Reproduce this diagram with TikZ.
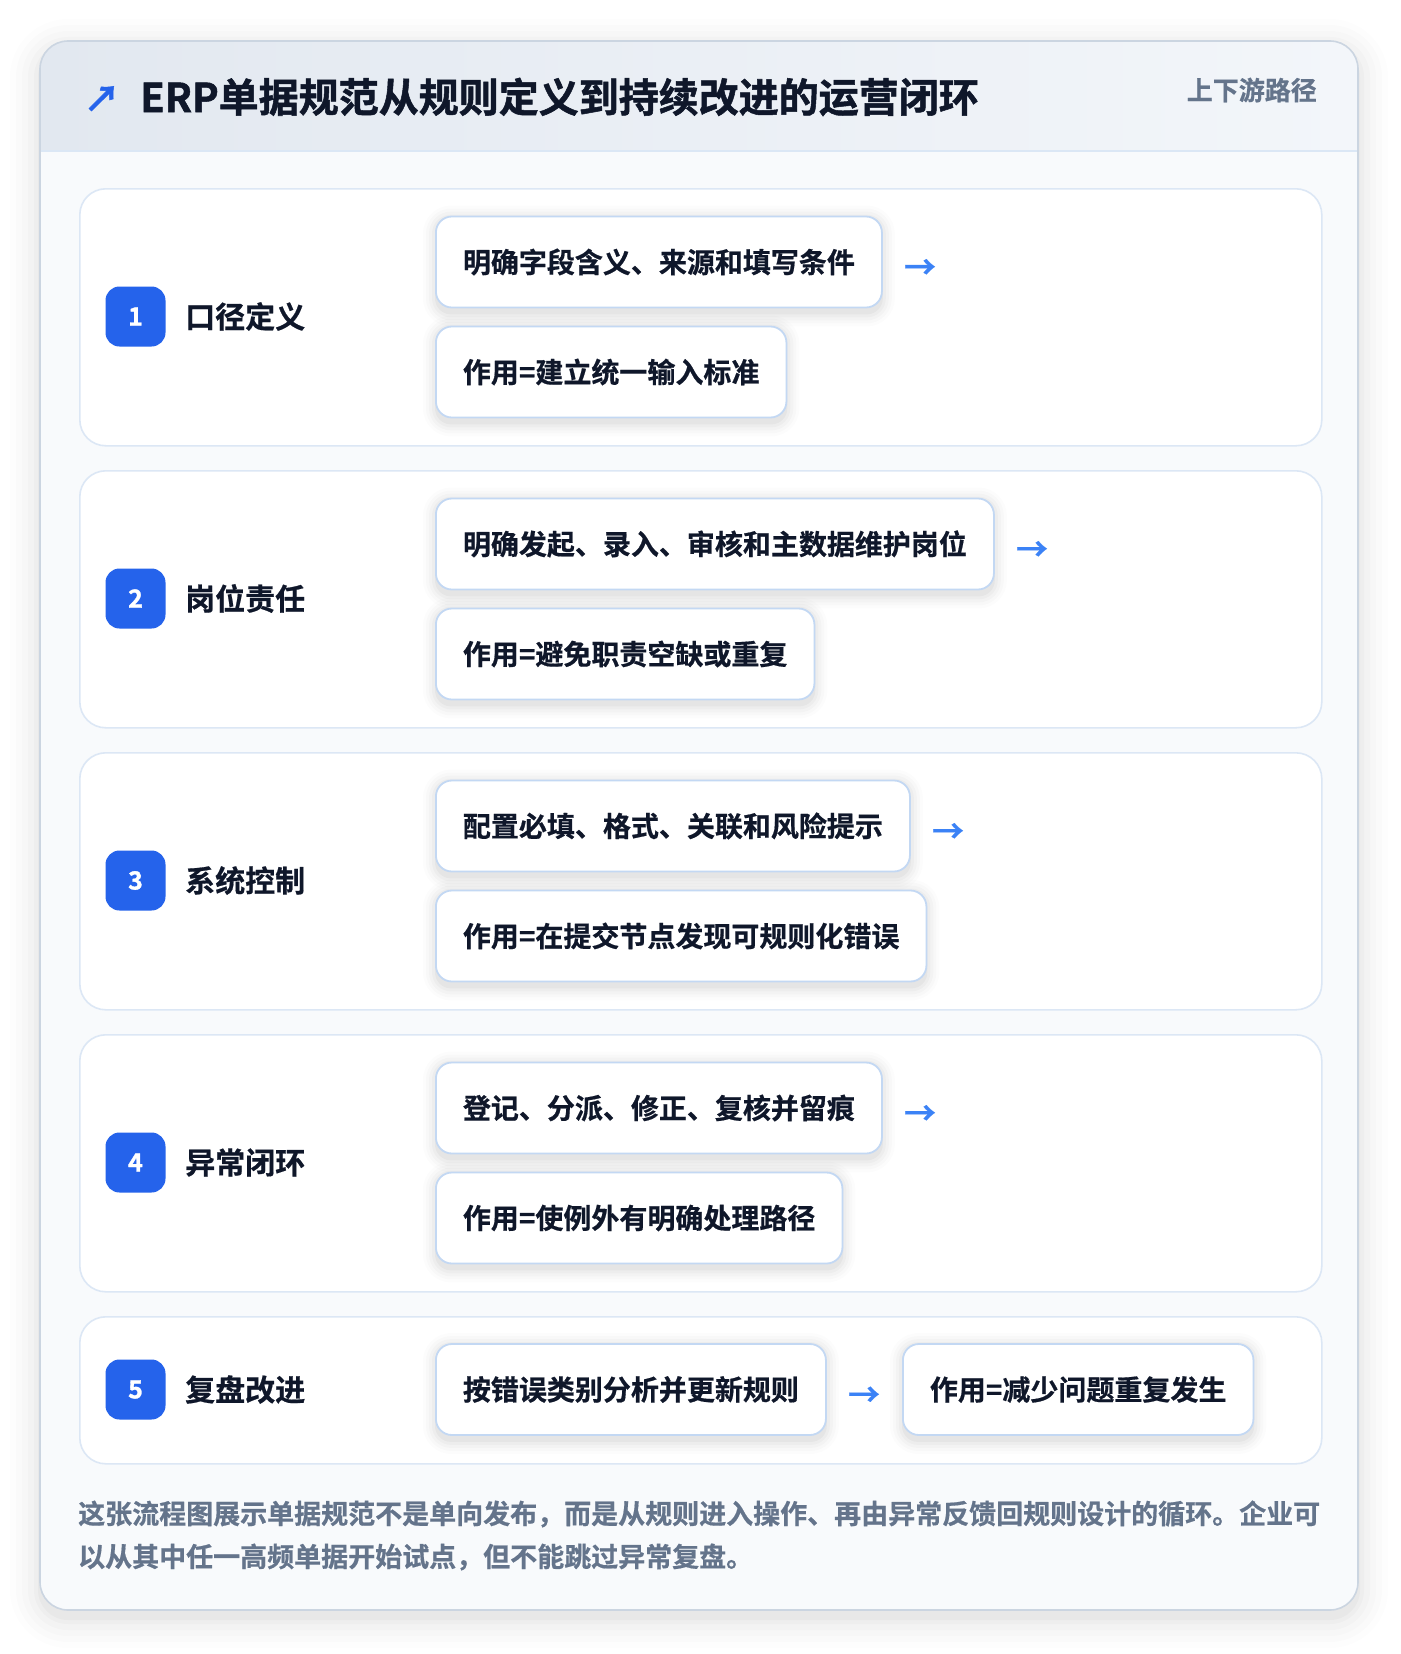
\documentclass[tikz,border=0pt]{standalone}
\usepackage{fontspec}
\setmainfont{Noto Sans CJK SC}[BoldFont={Noto Sans CJK SC Bold}, BoldFeatures={FakeBold=0.6}]
\newfontfamily\titlefont{Noto Sans CJK SC Bold}[FakeBold=1.3]
\definecolor{ink}{HTML}{0F172A}
\definecolor{brandblue}{HTML}{2563EB}
\definecolor{arrowblue}{HTML}{3B82F6}
\definecolor{mutedgray}{HTML}{64748B}
\definecolor{boxborder}{HTML}{C3D8F3}
\definecolor{rowborder}{HTML}{DCE7F5}
\definecolor{cardbody}{HTML}{F8FAFC}
\definecolor{cardborder}{HTML}{CBD5E1}
\definecolor{hdrL}{HTML}{E2E8F0}
\definecolor{hdrR}{HTML}{F3F6FA}
\definecolor{hdrline}{HTML}{DBE7F5}
\pgfdeclarelayer{bg}
\pgfdeclarelayer{shad}
\pgfsetlayers{bg,shad,main}
\tikzset{
  rowbox/.style={draw=rowborder, fill=white, line width=1.6pt, rounded corners=26pt, anchor=north west, minimum width=1242pt, inner sep=0pt},
  stepbox/.style={draw=boxborder, fill=white, line width=1.8pt, rounded corners=16pt, inner xsep=27pt, inner ysep=0pt, minimum height=91pt, anchor=west,
    font=\fontsize{28}{34}\selectfont\bfseries, text=ink},
  badge/.style={fill=brandblue, rounded corners=14pt, minimum width=60pt, minimum height=60pt, inner sep=0pt, text=white, font=\fontsize{25}{28}\titlefont},
  steplabel/.style={anchor=west, inner sep=0pt, text=ink, font=\fontsize{30}{36}\selectfont\bfseries},
  arrowtxt/.style={anchor=west, inner sep=0pt, text=arrowblue, font=\fontsize{32}{36}\selectfont\bfseries},
  foot/.style={anchor=west, inner sep=0pt, text=mutedgray, font=\fontsize{27}{32}\selectfont\bfseries},
}
\newcommand\boxshade[1]{%
  \begin{pgfonlayer}{shad}
  \foreach \g/\o in {12/0.012, 9/0.016, 6/0.02, 3/0.025, 0/0.03} {
    \fill[black, fill opacity=\o, rounded corners=16pt+\g pt]
      ([xshift=-\g pt, yshift=-6pt-\g pt]#1.south west) rectangle ([xshift=\g pt, yshift=-2pt+\g pt]#1.north east);
  }
  \end{pgfonlayer}}
\begin{document}
\begin{tikzpicture}[x=1pt,y=-1pt]
\useasboundingbox (0,0) rectangle (1400,1654);
\begin{pgfonlayer}{bg}
\fill[white] (0,0) rectangle (1400,1654);
% card shadow
\foreach \g/\o in {30/0.008, 24/0.01, 18/0.012, 12/0.015, 6/0.02, 2/0.025} {
  \fill[black, fill opacity=\o, rounded corners=28pt+\g pt] (40-\g,41-\g+8) rectangle (1358+\g,1610+\g+8);
}
% card
\fill[cardbody, rounded corners=28pt] (40,41) rectangle (1358,1610);
\begin{scope}
\clip[rounded corners=28pt] (40,41) rectangle (1358,1610);
\shade[left color=hdrL, right color=hdrR] (40,41) rectangle (1358,151);
\end{scope}
\draw[hdrline, line width=1.6pt] (40,151) -- (1358,151);
\draw[cardborder, line width=1.6pt, rounded corners=28pt] (40,41) rectangle (1358,1610);
% row boxes
\node[rowbox, minimum height=257pt] (row1) at (79,188) {};
\node[rowbox, minimum height=257pt] (row2) at (79,470) {};
\node[rowbox, minimum height=257pt] (row3) at (79,752) {};
\node[rowbox, minimum height=257pt] (row4) at (79,1034) {};
\node[rowbox, minimum height=147pt] (row5) at (79,1316) {};
\end{pgfonlayer}
% header
\node[text=brandblue, font=\fontsize{36}{40}\titlefont, inner sep=0pt] (icon) at (102,99) {↗};
\node[anchor=west, inner sep=0pt, text=ink, font=\fontsize{40}{46}\titlefont] (title) at (140,97) {ERP单据规范从规则定义到持续改进的运营闭环};
\node[anchor=east, inner sep=0pt, text=mutedgray, font=\fontsize{26}{30}\selectfont\bfseries] (tag) at (1317,90) {上下游路径};
% row 1
\node[badge] (b1) at (135.5,316.5) {1};
\node[steplabel] (l1) at (185,316.5) {口径定义};
\node[stepbox] (r1a) at (435,262) {明确字段含义、来源和填写条件};
\node[stepbox] (r1b) at (435,372) {作用=建立统一输入标准};
\node[arrowtxt] (r1arr) at ([xshift=21pt,yshift=-7pt]r1a.east) {→};
\boxshade{r1a}\boxshade{r1b}
% row 2
\node[badge] (b2) at (135.5,598.5) {2};
\node[steplabel] (l2) at (185,598.5) {岗位责任};
\node[stepbox] (r2a) at (435,544) {明确发起、录入、审核和主数据维护岗位};
\node[stepbox] (r2b) at (435,654) {作用=避免职责空缺或重复};
\node[arrowtxt] (r2arr) at ([xshift=21pt,yshift=-7pt]r2a.east) {→};
\boxshade{r2a}\boxshade{r2b}
% row 3
\node[badge] (b3) at (135.5,880.5) {3};
\node[steplabel] (l3) at (185,880.5) {系统控制};
\node[stepbox] (r3a) at (435,826) {配置必填、格式、关联和风险提示};
\node[stepbox] (r3b) at (435,936) {作用=在提交节点发现可规则化错误};
\node[arrowtxt] (r3arr) at ([xshift=21pt,yshift=-7pt]r3a.east) {→};
\boxshade{r3a}\boxshade{r3b}
% row 4
\node[badge] (b4) at (135.5,1162.5) {4};
\node[steplabel] (l4) at (185,1162.5) {异常闭环};
\node[stepbox] (r4a) at (435,1108) {登记、分派、修正、复核并留痕};
\node[stepbox] (r4b) at (435,1218) {作用=使例外有明确处理路径};
\node[arrowtxt] (r4arr) at ([xshift=21pt,yshift=-7pt]r4a.east) {→};
\boxshade{r4a}\boxshade{r4b}
% row 5
\node[badge] (b5) at (135.5,1389.5) {5};
\node[steplabel] (l5) at (185,1389.5) {复盘改进};
\node[stepbox] (r5a) at (435,1389.5) {按错误类别分析并更新规则};
\node[stepbox] (r5b) at (902,1389.5) {作用=减少问题重复发生};
\node[arrowtxt] (r5arr) at ([xshift=21pt,yshift=-7pt]r5a.east) {→};
\boxshade{r5a}\boxshade{r5b}
% footer
\node[foot] (f1) at (78,1514) {这张流程图展示单据规范不是单向发布，而是从规则进入操作、再由异常反馈回规则设计的循环。企业可};
\node[foot] (f2) at (78,1557) {以从其中任一高频单据开始试点，但不能跳过异常复盘。};
\end{tikzpicture}
\end{document}
